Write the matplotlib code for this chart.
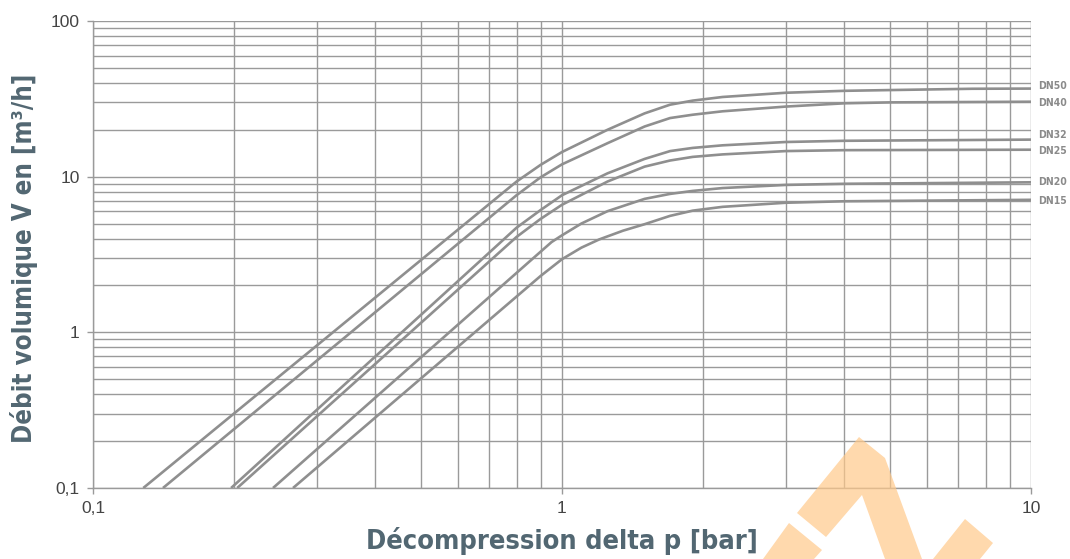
import matplotlib
matplotlib.use("Agg")
import matplotlib.pyplot as plt
from matplotlib.ticker import FixedLocator, NullFormatter, LogLocator
from matplotlib.patches import Polygon
from matplotlib import font_manager

# ---------------- data ----------------
series_names = ["DN50", "DN40", "DN32", "DN25", "DN20", "DN15"]

dn50_dp = [0.128, 0.8, 0.9, 1.0, 1.25, 1.5, 1.7, 1.9, 2.2, 3.0, 4.0, 5.0, 7.5, 10]
dn50_q = [0.1, 9.3, 11.9, 14.4, 20.0, 25.5, 29.0, 30.8, 32.5, 34.6, 35.6, 36.0, 36.7, 36.8]

dn40_dp = [0.141, 0.8, 0.9, 1.0, 1.25, 1.5, 1.7, 1.9, 2.2, 3.0, 4.0, 5.0, 10]
dn40_q = [0.1, 7.6, 9.9, 12.0, 16.4, 21.0, 23.8, 25.0, 26.3, 28.2, 29.6, 30.0, 30.3]

dn32_dp = [0.197, 0.8, 0.9, 1.0, 1.25, 1.5, 1.7, 1.9, 2.2, 3.0, 4.0, 10]
dn32_q = [0.1, 4.7, 6.1, 7.6, 10.5, 13.0, 14.6, 15.3, 15.9, 16.7, 17.0, 17.3]

dn25_dp = [0.203, 0.8, 0.9, 1.0, 1.25, 1.5, 1.7, 1.9, 2.2, 3.0, 4.0, 10]
dn25_q = [0.1, 4.1, 5.35, 6.6, 9.3, 11.6, 12.7, 13.4, 13.9, 14.6, 14.8, 14.9]

dn20_dp = [0.242, 0.85, 0.95, 1.0, 1.1, 1.25, 1.5, 1.7, 1.9, 2.2, 3.0, 4.0, 10]
dn20_q = [0.1, 2.83, 3.8, 4.2, 5.0, 6.0, 7.2, 7.75, 8.1, 8.45, 8.85, 9.0, 9.2]

dn15_dp = [0.267, 0.9, 1.0, 1.1, 1.2, 1.35, 1.5, 1.7, 1.9, 2.2, 3.0, 4.0, 10]
dn15_q = [0.1, 2.3, 2.95, 3.5, 3.95, 4.5, 4.95, 5.6, 6.05, 6.4, 6.8, 6.95, 7.1]

x_ticks = [0.1, 1, 10]
x_tick_labels = ["0,1", "1", "10"]
y_ticks = [0.1, 1, 10, 100]
y_tick_labels = ["0,1", "1", "10", "100"]

x_label = "Décompression delta p [bar]"
y_label = "Débit volumique V en [m³/h]"

series = [
    (dn50_dp, dn50_q),
    (dn40_dp, dn40_q),
    (dn32_dp, dn32_q),
    (dn25_dp, dn25_q),
    (dn20_dp, dn20_q),
    (dn15_dp, dn15_q),
]
# vertical nudge of the end labels (points)
label_nudge = [2, -1, 3, -1, 0, -1]

# ---------------- fonts ----------------
available = {f.name for f in font_manager.fontManager.ttflist}
if "Liberation Sans Narrow" in available:
    title_family = ["Liberation Sans Narrow", "DejaVu Sans"]
    title_stretch = "normal"
else:
    title_family = ["DejaVu Sans"]
    title_stretch = "condensed"
tick_family = ["Liberation Sans", "DejaVu Sans"]

W, H = 1070, 559
fig = plt.figure(figsize=(W / 100, H / 100), dpi=100)
ax = fig.add_axes([93 / W, 1 - 488 / H, (1031 - 93) / W, (488 - 21) / H])

ax.set_xscale("log")
ax.set_yscale("log")
ax.set_xlim(0.1, 10)
ax.set_ylim(0.1, 100)

grid_color = "#9a9a9a"
ax.xaxis.set_major_locator(FixedLocator(x_ticks))
ax.yaxis.set_major_locator(FixedLocator(y_ticks))
ax.set_xticklabels(x_tick_labels)
ax.set_yticklabels(y_tick_labels)
ax.xaxis.set_minor_locator(LogLocator(base=10, subs=range(2, 10)))
ax.yaxis.set_minor_locator(LogLocator(base=10, subs=range(2, 10)))
ax.xaxis.set_minor_formatter(NullFormatter())
ax.yaxis.set_minor_formatter(NullFormatter())
ax.grid(True, which="both", color=grid_color, linewidth=1.0)
ax.set_axisbelow(True)

ax.tick_params(which="major", length=4.5, width=1.0, color=grid_color,
               labelsize=12.5, labelcolor="#444444", pad=5)
ax.tick_params(which="minor", length=0)
for lab in ax.get_xticklabels() + ax.get_yticklabels():
    lab.set_family(tick_family)

for sp in ax.spines.values():
    sp.set_color(grid_color)
    sp.set_linewidth(1.0)
ax.spines["top"].set_visible(False)
ax.spines["right"].set_visible(False)

line_color = "#8f8f8f"
for name, (dp, q), nudge in zip(series_names, series, label_nudge):
    ax.plot(dp, q, color=line_color, linewidth=1.9, solid_capstyle="butt",
            solid_joinstyle="round", zorder=3)
    ax.annotate(name, xy=(dp[-1], q[-1]), xytext=(5, nudge), textcoords="offset points",
                ha="left", va="center", fontsize=7.5, fontweight="bold",
                color="#8a8a8a", family=title_family, stretch=title_stretch,
                annotation_clip=False)

label_color = "#526772"
fig.text(562 / W, 1 - 541 / H, x_label, ha="center", va="center", fontsize=19.5,
         fontweight="bold", color=label_color, family=title_family, stretch=title_stretch,
         zorder=5)
fig.text(24 / W, 1 - 258 / H, y_label, ha="center", va="center", fontsize=18.5,
         fontweight="bold", color=label_color, family=title_family, stretch=title_stretch,
         rotation=90, zorder=5)

# decorative watermark shapes in the lower right (pixel outlines)
marks = [
    [(859, 437), (885, 458), (922, 559), (885, 559), (862, 495), (826, 537), (797, 513)],
    [(789, 523), (822, 550), (814, 559), (763, 559)],
    [(965, 519), (993, 543), (980, 559), (933, 559)],
]
for pts in marks:
    poly = Polygon([(px / W, 1 - py / H) for px, py in pts], closed=True,
                   transform=fig.transFigure, facecolor="#ffc98a", alpha=0.7,
                   edgecolor="none", zorder=2)
    fig.add_artist(poly)

fig.savefig("out.png", dpi=100)
